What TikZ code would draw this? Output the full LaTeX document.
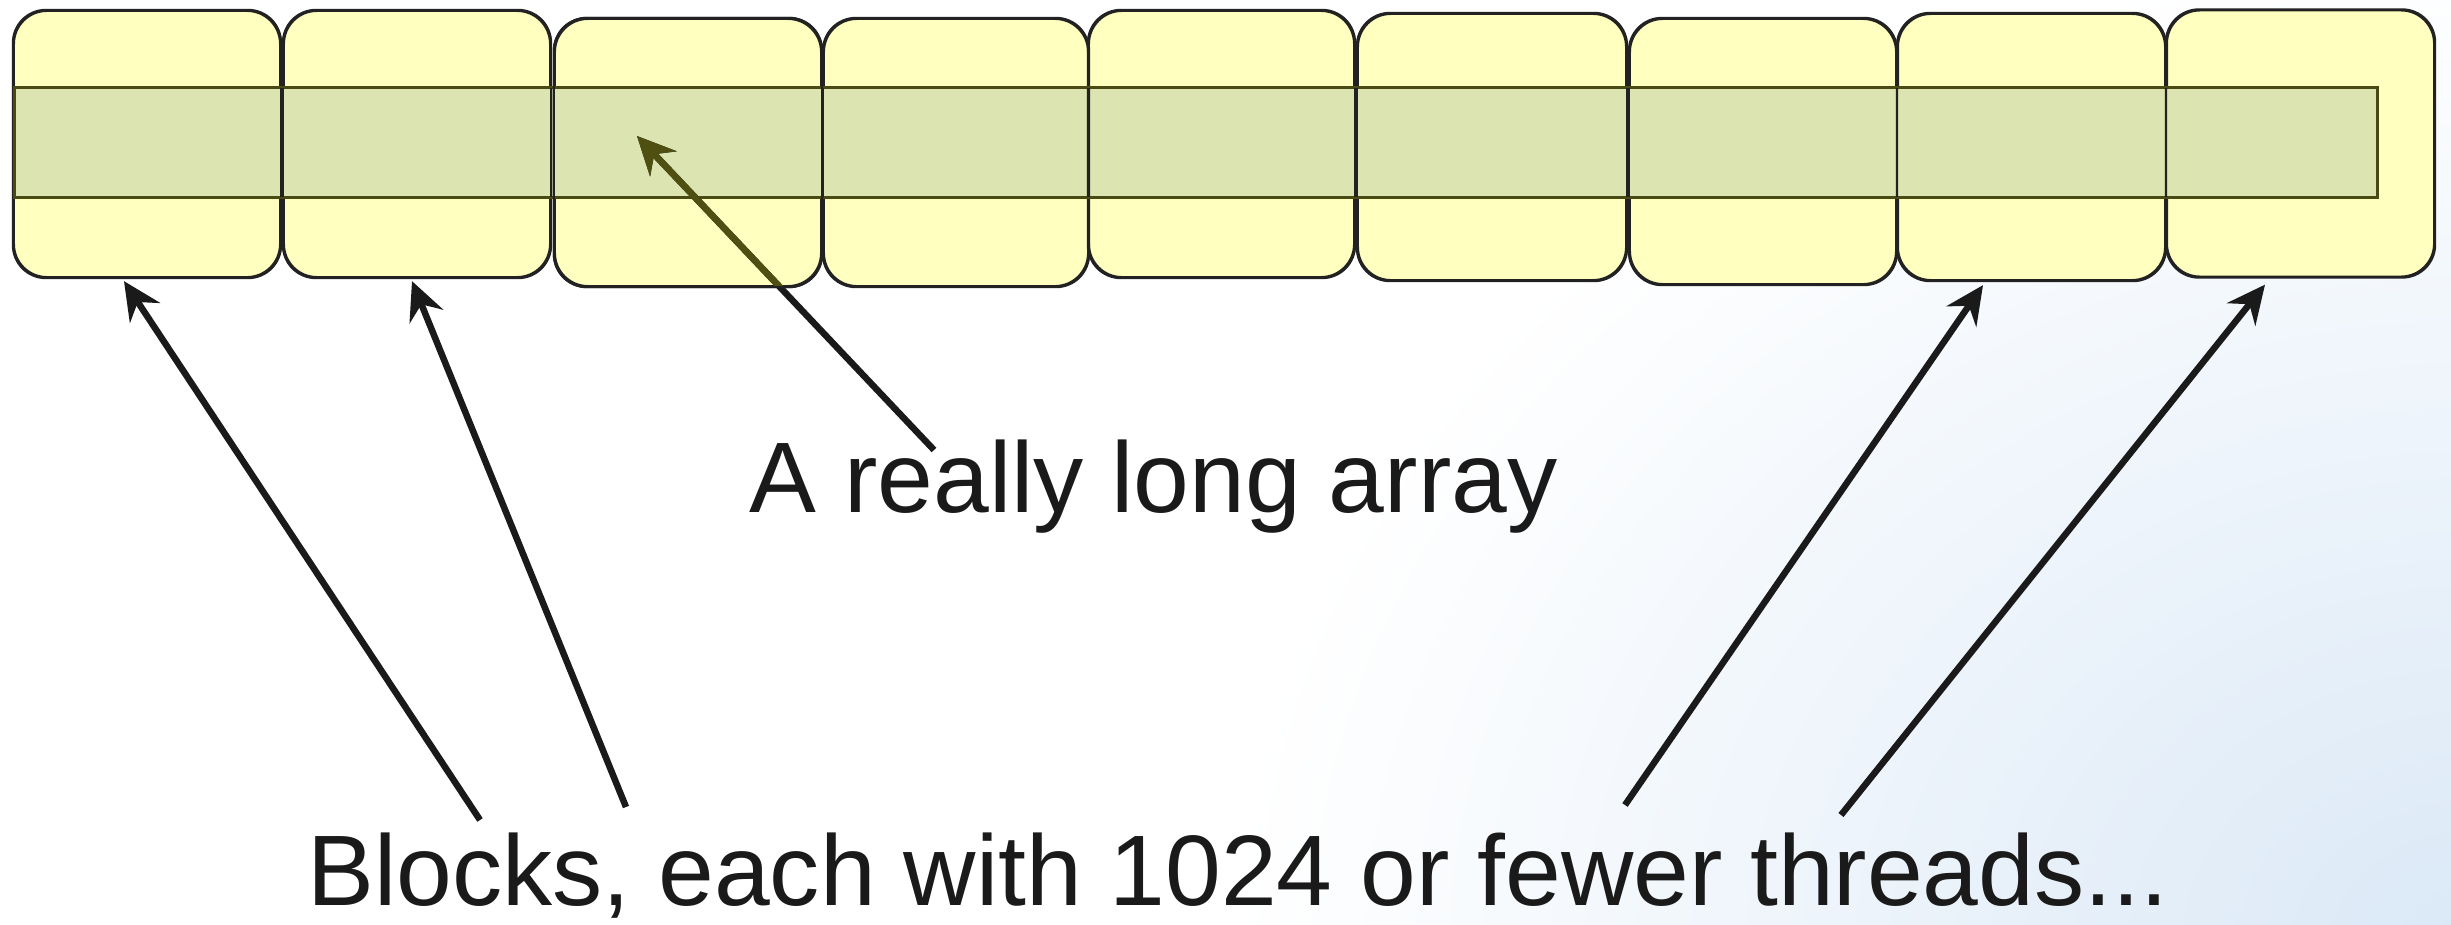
\documentclass[tikz,border=0pt]{standalone}
\usepackage{fontspec}
\setmainfont{Liberation Sans}
\usetikzlibrary{calc,arrows.meta}

\definecolor{blockfill}{HTML}{FFFFC0}
\definecolor{blockedge}{HTML}{222222}
\definecolor{stripfill}{HTML}{DCE5B1}
\definecolor{stripedge}{HTML}{4A4A14}
\definecolor{ink}{HTML}{1A1A1A}
\definecolor{olivearrow}{HTML}{4F4F12}
\definecolor{glow}{HTML}{DAE8F6}

\tikzset{
  blockbox/.style={draw=blockedge, line width=0.6pt, fill=blockfill,
    rounded corners=0.33cm, inner sep=0pt, minimum width=2.66cm, minimum height=2.66cm},
  blockline/.style={draw=blockedge, line width=0.6pt, rounded corners=0.33cm},
  arraybox/.style={draw=stripedge, line width=0.6pt, fill=stripfill, inner sep=0pt,
    minimum width=23.60cm, minimum height=1.09cm},
  pointer/.style={draw=ink, line width=1.85pt,
    -{Stealth[length=0.38cm, width=0.36cm, inset=0.13cm]}},
  caption/.style={anchor=base west, text=ink, inner sep=0pt,
    font=\fontsize{28.5pt}{34pt}\selectfont}
}

\begin{document}
\begin{tikzpicture}[x=0.01cm, y=-0.01cm]
  \useasboundingbox (0,0) rectangle (2451,924);

  % page background with a soft blue glow in the lower right corner
  \fill[white] (0,0) rectangle (2451,924);
  \begin{scope}
    \clip (0,0) rectangle (2451,924);
    \shade[inner color=glow, outer color=white]
      (2480,950) ellipse [x radius=12.5cm, y radius=10cm];
  \end{scope}

  % thread blocks
  \node[blockbox] (b1) at (147,144) {};
  \node[blockbox] (b2) at (417,144) {};
  \node[blockbox, minimum height=2.67cm] (b3) at (688,152.5) {};
  \node[blockbox, minimum width=2.64cm, minimum height=2.67cm] (b4) at (956,152.5) {};
  \node[blockbox, minimum width=2.65cm] (b5) at (1221.5,144) {};
  \node[blockbox, minimum width=2.68cm] (b6) at (1492,147) {};
  \node[blockbox, minimum height=2.65cm] (b7) at (1763,151.5) {};
  \node[blockbox, minimum width=2.67cm] (b8) at (2031.5,147) {};
  \node[blockbox, minimum width=2.67cm] (b9) at (2300.5,143.5) {};

  % the long array running across the blocks
  \node[arraybox] (arr) at (1196,142.5) {};

  % block outlines stay visible across the array
  \foreach \b in {b1,b2,b3,b4,b5,b6,b7,b8,b9}
    \draw[blockline] (\b.south west) rectangle (\b.north east);
  \draw[draw=stripedge, line width=0.6pt] (arr.south west) rectangle (arr.north east);

  % labels
  \node[caption] (lbl) at (749,512) {A really long array};
  \node[caption] (cap) at (307,905) {Blocks, each with 1024 or fewer threads...};

  % arrow ends
  \coordinate (s1) at (480,820);
  \coordinate (s2) at (626,807);
  \coordinate (s3) at (934,450);
  \coordinate (s4) at (1625,805);
  \coordinate (s5) at (1841,815);
  \coordinate (t1) at ($(b1.south)+(-23,3)$);
  \coordinate (t2) at ($(b2.south)+(-5,3)$);
  \coordinate (t3) at ($(b3.center)+(-51,-16.5)$);
  \coordinate (t4) at ($(b8.south)+(-48.5,4)$);
  \coordinate (t5) at ($(b9.south)+(-35.5,7)$);

  % pointers
  \draw[pointer] (s1) -- (t1);
  \draw[pointer] (s2) -- (t2);
  \draw[pointer] (s4) -- (t4);
  \draw[pointer] (s5) -- (t5);
  \draw[pointer] (s3) -- (t3);
  \begin{scope}
    \clip[rounded corners=0.33cm] (b3.south west) rectangle (b3.north east);
    \draw[pointer, draw=olivearrow, fill=olivearrow] (s3) -- (t3);
  \end{scope}
  \draw[blockline] (b3.south west) rectangle (b3.north east);
\end{tikzpicture}
\end{document}
